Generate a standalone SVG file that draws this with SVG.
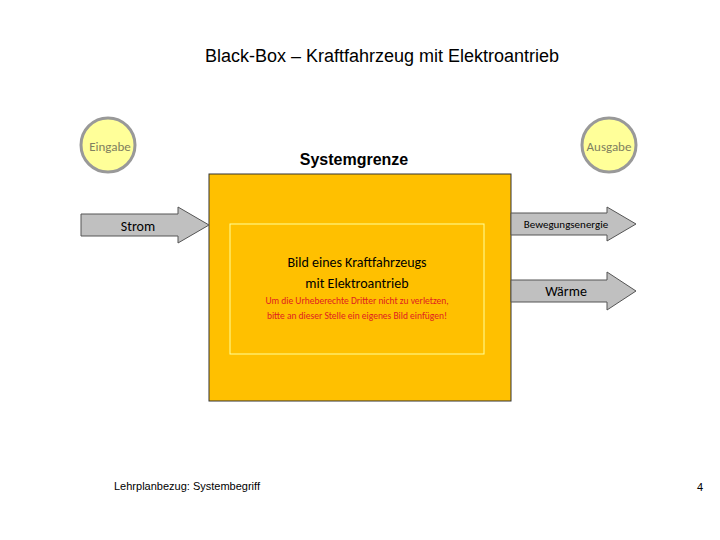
<svg xmlns="http://www.w3.org/2000/svg" width="720" height="540" viewBox="0 0 720 540">
<style>
.c{fill:#ffff99;stroke:#999;stroke-width:3}
.ar{fill:#c0c0c0;stroke:#555;stroke-width:1}
.t{font-family:"Liberation Sans",Arial,sans-serif}
.k{font-family:Carlito,"Open Sans",sans-serif}
</style>
<rect width="720" height="540" fill="#fff"/>
<text class="t" x="382" y="62" font-size="18" text-anchor="middle">Black-Box – Kraftfahrzeug mit Elektroantrieb</text>
<g id="eingabe"><circle class="c" cx="108" cy="145" r="27"/><text class="k" x="110" y="151" font-size="13" fill="#808060" text-anchor="middle">Eingabe</text></g>
<g id="ausgabe"><circle class="c" cx="609" cy="145" r="27"/><text class="k" x="609" y="151" font-size="13" fill="#808060" text-anchor="middle">Ausgabe</text></g>
<g id="system">
<text class="t" x="354" y="165" font-size="16" font-weight="bold" text-anchor="middle">Systemgrenze</text>
<rect x="209" y="174" width="302" height="227" fill="#ffc000" stroke="#333" stroke-width="1"/>
<rect x="230" y="224" width="254" height="130" fill="none" stroke="#ffff99" stroke-width="1"/>
<text class="k" x="357" y="267" font-size="14" text-anchor="middle">Bild eines Kraftfahrzeugs</text>
<text class="k" x="357" y="288" font-size="14" text-anchor="middle">mit Elektroantrieb</text>
<text class="k" x="357" y="304" font-size="9.5" fill="#e02020" text-anchor="middle">Um die Urheberechte Dritter nicht zu verletzen,</text>
<text class="k" x="357" y="319" font-size="9.5" fill="#e02020" text-anchor="middle">bitte an dieser Stelle ein eigenes Bild einfügen!</text>
</g>
<g id="connectors">
<polygon class="ar" points="81,214 178,214 178,207 209,225 178,243 178,236 81,236"/>
<polygon class="ar" points="511,213 607,213 607,207 636,224 607,241 607,235 511,235"/>
<polygon class="ar" points="511,280 607,280 607,272 636,291 607,310 607,302 511,302"/>
</g>
<text class="k" x="138" y="231" font-size="14" text-anchor="middle">Strom</text>
<text class="k" x="566" y="228" font-size="11" text-anchor="middle">Bewegungsenergie</text>
<text class="k" x="566" y="296" font-size="14" text-anchor="middle">Wärme</text>
<text class="t" x="114" y="490" font-size="11">Lehrplanbezug: Systembegriff</text>
<text class="t" x="703" y="491" font-size="11" text-anchor="end">4</text>
</svg>
